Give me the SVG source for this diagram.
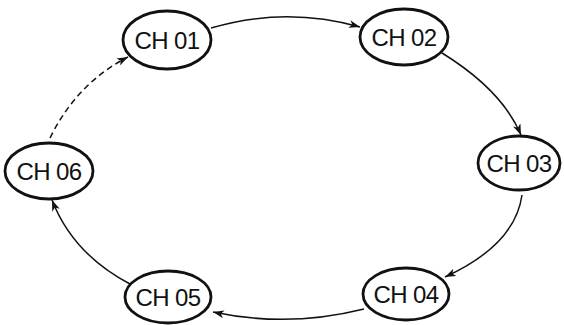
<svg xmlns="http://www.w3.org/2000/svg" width="564" height="325" viewBox="0 0 564 325">
<style>
.node ellipse{fill:#fff;stroke:#111;stroke-width:2.8}
.node text{font-family:"Liberation Sans",Arial,sans-serif;font-size:24px;letter-spacing:-0.6px;fill:#111;text-anchor:middle}
.conn path{fill:none;stroke:#111;stroke-width:1.5;marker-end:url(#arr)}
.conn path.dash{stroke-dasharray:6 4}
</style>
<defs>
<marker id="arr" markerWidth="12" markerHeight="8" refX="11" refY="4" orient="auto" markerUnits="userSpaceOnUse">
<path d="M0,0 L11,4 L0,8 L3,4 Z" fill="#111"/>
</marker>
</defs>
<rect width="564" height="325" fill="#fff"/>
<g class="conn">
<path d="M211,28 Q286,6 360,27"/>
<path d="M442,53 Q502,90 521,135"/>
<path d="M522,195 Q515,245 445,277"/>
<path d="M364,309 Q288,328 213,312"/>
<path d="M130,284 Q73,254 52,200"/>
<path class="dash" d="M50,138 Q77,83 128,57"/>
</g>
<g id="ch01" class="node"><ellipse cx="167" cy="40" rx="44" ry="29"/><text x="167" y="48.5">CH 01</text></g>
<g id="ch02" class="node"><ellipse cx="404" cy="37" rx="44" ry="28"/><text x="404" y="45.5">CH 02</text></g>
<g id="ch03" class="node"><ellipse cx="519" cy="163" rx="41" ry="27"/><text x="519" y="171.5">CH 03</text></g>
<g id="ch04" class="node"><ellipse cx="406" cy="294" rx="43" ry="26"/><text x="406" y="302.5">CH 04</text></g>
<g id="ch05" class="node"><ellipse cx="168" cy="297" rx="43" ry="26"/><text x="168" y="305.5">CH 05</text></g>
<g id="ch06" class="node"><ellipse cx="49" cy="171" rx="44" ry="28"/><text x="49" y="179.5">CH 06</text></g>
</svg>
